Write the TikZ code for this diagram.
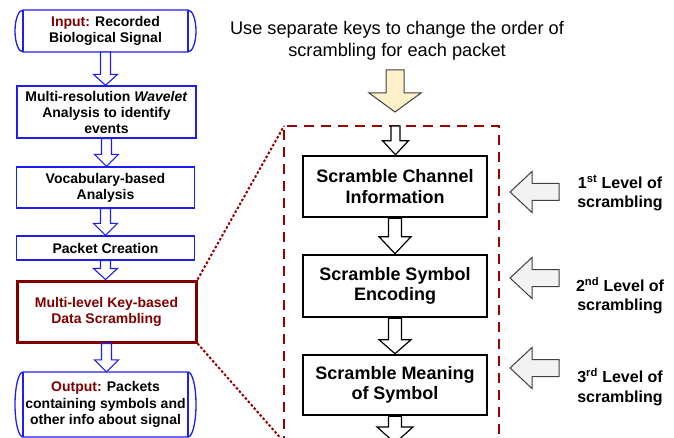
\documentclass[tikz,border=0pt]{standalone}
\usepackage{fontspec}
\setmainfont{Liberation Sans}
\usetikzlibrary{calc}
\definecolor{myblue}{RGB}{30,30,240}
\definecolor{dred}{RGB}{128,0,0}
\definecolor{dashred}{RGB}{153,0,0}
\definecolor{yel}{RGB}{253,240,200}
\definecolor{lgray}{RGB}{242,242,242}
\definecolor{agray}{RGB}{64,64,64}
% vertical block arrow: style, start, tip, shaft half width, head half width, head length
\newcommand\vblockarrow[6]{%
  \filldraw[#1] let \p1=(#2), \p2=(#3) in
    (\x1-#4,\y1) -- (\x1-#4,\y2+#6) -- (\x1-#5,\y2+#6) -- (\x1,\y2)
    -- (\x1+#5,\y2+#6) -- (\x1+#4,\y2+#6) -- (\x1+#4,\y1) -- cycle;}
% left-pointing block arrow: style, tip, tail, shaft half height, head half height, head length
\newcommand\hblockarrow[6]{%
  \filldraw[#1] let \p1=(#2), \p2=(#3) in
    (\x1,\y1) -- (\x1+#6,\y1+#5) -- (\x1+#6,\y1+#4) -- (\x2,\y1+#4)
    -- (\x2,\y1-#4) -- (\x1+#6,\y1-#4) -- (\x1+#6,\y1-#5) -- cycle;}
\tikzset{
  lbox/.style={draw=myblue, line width=1.3pt, align=center, inner sep=1pt,
    font=\fontsize{14}{16}\selectfont\bfseries, minimum width=179pt},
  drumtext/.style={align=center, inner sep=1pt,
    font=\fontsize{14}{16.5}\selectfont\bfseries, minimum width=165pt},
  drum/.style={draw=myblue, line width=1.3pt, fill=white},
  redbox/.style={draw=dred, line width=3pt, align=center, text=dred,
    font=\fontsize{14}{16}\selectfont\bfseries, minimum width=179pt},
  rbox/.style={draw=black, line width=2.6pt, align=center, inner sep=1pt,
    font=\fontsize{18}{20.5}\selectfont\bfseries, minimum width=184pt},
  lvl/.style={align=center, font=\fontsize{16}{19}\selectfont\bfseries},
  blarrow/.style={draw=myblue, fill=white, line width=1.1pt, line join=miter},
  bkarrow/.style={draw=black, fill=white, line width=1.2pt, line join=miter},
  yarrow/.style={draw=agray, fill=yel, line width=1pt, line join=miter},
  garrow/.style={draw=agray, fill=lgray, line width=1pt, line join=miter},
  dashframe/.style={draw=dashred, line width=1.8pt, dash pattern=on 10pt off 7pt},
  dotlink/.style={draw=dashred, line width=2pt, dash pattern=on 2.5pt off 2pt}
}
\begin{document}
\begin{tikzpicture}[x=1pt,y=1pt]
\useasboundingbox (0,0) rectangle (674,-438);

% ---------- left column ----------
\path[drum] (23,-10) -- (188,-10) arc[start angle=90,end angle=-90,x radius=8,y radius=21]
  -- (23,-52) arc[start angle=270,end angle=90,x radius=8,y radius=21] -- cycle;
\draw[drum] (23,-10) -- (23,-52) (188,-10) -- (188,-52);
\node[drumtext, minimum height=42pt] (in) at (105.5,-31)
  {\textcolor{dred}{Input:} Recorded\\Biological Signal};

\node[lbox, minimum height=52pt] (wav) at (106.5,-112)
  {Multi-resolution \textit{Wavelet}\\Analysis to identify\\events};
\node[lbox, minimum width=178pt, minimum height=41pt] (voc) at (105.5,-187.5)
  {Vocabulary-based\\Analysis};
\node[lbox, minimum width=178pt, minimum height=24pt] (pkt) at (105.5,-248)
  {Packet Creation};
\node[redbox, minimum height=61pt] (mls) at (106.5,-311.5)
  {Multi-level Key-based\\Data Scrambling};

\path[drum] (23,-372) -- (188,-372) arc[start angle=90,end angle=-90,x radius=8,y radius=32.5]
  -- (23,-437) arc[start angle=270,end angle=90,x radius=8,y radius=32.5] -- cycle;
\draw[drum] (23,-372) -- (23,-437) (188,-372) -- (188,-437);
\node[drumtext, minimum height=65pt] (out) at (105.5,-404.5)
  {\textcolor{dred}{Output:} Packets\\containing symbols and\\other info about signal};

\vblockarrow{blarrow}{in.south}{wav.north}{5pt}{12pt}{11pt}
\vblockarrow{blarrow}{wav.south}{voc.north}{5pt}{12pt}{12pt}
\vblockarrow{blarrow}{voc.south}{pkt.north}{5pt}{12pt}{12pt}
\vblockarrow{blarrow}{pkt.south}{mls.north}{5pt}{12pt}{11pt}
\vblockarrow{blarrow}{mls.south}{out.north}{5pt}{12pt}{12pt}

% ---------- right part ----------
\node[align=center, font=\fontsize{18.2}{22}\selectfont] (title) at (397,-41)
  {Use separate keys to change the order of\\scrambling for each packet};

\coordinate (ys) at (395,-70);
\coordinate (ye) at (395,-112);
\vblockarrow{yarrow}{ys}{ye}{9pt}{26pt}{19pt}

\coordinate (dtl) at (284,-126);
\coordinate (dtop) at (395.5,-126);
\coordinate (dbl) at (284,-442);
\draw[dashframe] (284,-446) -- (dtl) -- (499,-126) -- (499,-446);

\draw[dotlink] (mls.north east) -- (dtl);
\draw[dotlink] (mls.south east) -- (dbl);

\node[rbox, minimum height=61pt] (b1) at (395,-186.5) {Scramble Channel\\Information};
\node[rbox, minimum height=62pt] (b2) at (395,-286) {Scramble Symbol\\Encoding};
\node[rbox, minimum height=60pt] (b3) at (395,-385) {Scramble Meaning\\of Symbol};
\coordinate (bend) at (395,-443);

\vblockarrow{bkarrow}{dtop}{b1.north}{4.5pt}{13pt}{14pt}
\vblockarrow{bkarrow}{b1.south}{b2.north}{6.5pt}{16pt}{17pt}
\vblockarrow{bkarrow}{b2.south}{b3.north}{6.5pt}{16pt}{14pt}
\vblockarrow{bkarrow}{b3.south}{bend}{6.5pt}{18pt}{16pt}

\coordinate (t1) at (510,-192);  \coordinate (e1) at (559,-192);
\coordinate (t2) at (510,-278);  \coordinate (e2) at (559,-278);
\coordinate (t3) at (510,-368);  \coordinate (e3) at (559,-368);
\hblockarrow{garrow}{t1}{e1}{8.5pt}{20.5pt}{22pt}
\hblockarrow{garrow}{t2}{e2}{8.5pt}{20.5pt}{22pt}
\hblockarrow{garrow}{t3}{e3}{8.5pt}{20.5pt}{22pt}

\node[lvl] (l1) at (620,-193) {1\textsuperscript{st} Level of\\scrambling};
\node[lvl] (l2) at (620,-296) {2\textsuperscript{nd} Level of\\scrambling};
\node[lvl] (l3) at (620,-387) {3\textsuperscript{rd} Level of\\scrambling};
\end{tikzpicture}
\end{document}
